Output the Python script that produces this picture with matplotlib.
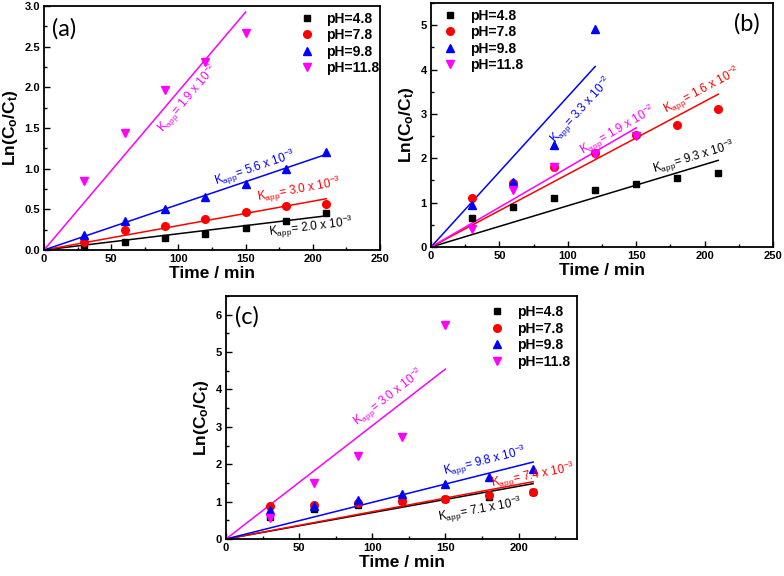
import numpy as np
import matplotlib
matplotlib.use("Agg")
import matplotlib.pyplot as plt
from matplotlib.ticker import MultipleLocator

plt.rcParams["font.family"] = ["Liberation Sans", "DejaVu Sans"]
plt.rcParams["mathtext.fontset"] = "custom"
plt.rcParams["mathtext.rm"] = "Liberation Sans"
plt.rcParams["mathtext.it"] = "Liberation Sans:italic"
plt.rcParams["mathtext.bf"] = "Liberation Sans:bold"

# ── data ──
series_names = ["pH=4.8", "pH=7.8", "pH=9.8", "pH=11.8"]
colors = ["#000000", "#ff0000", "#0000ff", "#ff00ff"]
markers = ["s", "o", "^", "v"]

t_long = [30, 60, 90, 120, 150, 180, 210]
t_short = [30, 60, 90, 120, 150]
t_b_blue = [30, 60, 90, 120]

# (a)
a_y = [
    [0.03, 0.10, 0.15, 0.20, 0.27, 0.36, 0.45],
    [0.10, 0.25, 0.30, 0.38, 0.47, 0.54, 0.57],
    [0.19, 0.36, 0.51, 0.65, 0.81, 1.00, 1.20],
    [0.85, 1.44, 1.97, 2.31, 2.67],
]
a_t = [t_long, t_long, t_long, t_short]
a_k = [0.0020, 0.0030, 0.0056, 0.0195]
a_tend = [210, 210, 210, 150]
a_klab = ["2.0 x 10$^{-3}$", "3.0 x 10$^{-3}$", "5.6 x 10$^{-3}$", "1.9 x 10$^{-2}$"]
a_kpos = [(199, 0.28), (190, 0.74), (157, 1.01), (107, 1.87)]

# (b)
b_y = [
    [0.66, 0.90, 1.10, 1.28, 1.43, 1.56, 1.67],
    [1.10, 1.45, 1.80, 2.12, 2.52, 2.75, 3.11],
    [0.95, 1.47, 2.29, 4.92],
    [0.40, 1.28, 1.80, 2.10, 2.50],
]
b_t = [t_long, t_long, t_b_blue, t_short]
b_k = [0.0093, 0.0164, 0.0339, 0.0179]
b_tend = [210, 210, 120, 150]
b_klab = ["9.3 x 10$^{-3}$", "1.6 x 10$^{-2}$", "3.3 x 10$^{-2}$", "1.9 x 10$^{-2}$"]
b_kpos = [(192, 2.02), (198, 3.52), (110, 3.08), (137, 2.62)]

# (c)
c_y = [
    [0.58, 0.80, 0.90, 1.02, 1.07, 1.12, 1.25],
    [0.88, 0.92, 0.95, 1.02, 1.08, 1.18, 1.25],
    [0.78, 0.88, 1.05, 1.20, 1.48, 1.66, 1.88],
    [0.57, 1.50, 2.22, 2.73, 5.73],
]
c_t = [t_long, t_long, t_long, t_short]
c_k = [0.00705, 0.0073, 0.0098, 0.0303]
c_tend = [210, 210, 210, 150]
c_klab = ["7.1 x 10$^{-3}$", "7.4 x 10$^{-3}$", "9.8 x 10$^{-3}$", "3.0 x 10$^{-2}$"]
c_kpos = [(174, 0.78), (210, 1.70), (177, 2.09), (111, 3.80)]

W, H = 784, 576
fig = plt.figure(figsize=(W / 100, H / 100), dpi=100)


def px_axes(l, r, t, b):
    return fig.add_axes([l / W, 1 - b / H, (r - l) / W, (b - t) / H])


def draw_panel(ax, ts, ys, ks, tends, klabs, kpos, xlim, ylim, yfmt, ymaj,
               tag, tag_xy, leg_loc, leg_anchor):
    for i in range(4):
        ax.plot(ts[i], ys[i], linestyle="none", marker=markers[i],
                color=colors[i], ms=5.5 if markers[i] != "s" else 4.8,
                label=series_names[i], zorder=3)
        ax.plot([0, tends[i]], [0, ks[i] * tends[i]], color=colors[i],
                lw=1.1, zorder=2)
    ax.set_xlim(*xlim)
    ax.set_ylim(*ylim)
    ax.xaxis.set_major_locator(MultipleLocator(50))
    ax.xaxis.set_minor_locator(MultipleLocator(25))
    ax.yaxis.set_major_locator(MultipleLocator(ymaj))
    ax.yaxis.set_minor_locator(MultipleLocator(ymaj / 2))
    ax.yaxis.set_major_formatter(yfmt)
    ax.tick_params(which="both", direction="in", top=False, right=False)
    ax.tick_params(which="major", length=4, width=1.0, labelsize=8, pad=3)
    ax.tick_params(which="minor", length=2.5, width=1.0)
    for lab in ax.get_xticklabels() + ax.get_yticklabels():
        lab.set_fontweight("bold")
    for sp in ax.spines.values():
        sp.set_linewidth(1.3)
    ax.set_xlabel("Time / min", fontsize=12.5, fontweight="bold", labelpad=1)
    ax.set_ylabel(r"Ln(C$_{\mathbf{o}}$/C$_{\mathbf{t}}$)", fontsize=12.5,
                  fontweight="bold", labelpad=3)
    ax.text(tag_xy[0], tag_xy[1], tag, transform=ax.transAxes,
            fontsize=17, family=["Lato", "DejaVu Sans"], va="center", ha="left")
    # rotated rate labels along the fit lines
    for i in range(4):
        p0 = ax.transData.transform((0, 0))
        p1 = ax.transData.transform((tends[i], ks[i] * tends[i]))
        ang = np.degrees(np.arctan2(p1[1] - p0[1], p1[0] - p0[0]))
        ax.text(kpos[i][0], kpos[i][1], r"K$_{\mathrm{app}}$= " + klabs[i],
                color=colors[i], fontsize=8.5, rotation=ang,
                rotation_mode="anchor", ha="center", va="center")
    leg = ax.legend(loc=leg_loc, bbox_to_anchor=leg_anchor, frameon=False,
                    prop={"weight": "bold", "size": 10}, handletextpad=0.9,
                    labelspacing=0.18, handlelength=1.0, borderaxespad=0.0)
    return leg


ax_a = px_axes(44, 380, 6, 250)
draw_panel(ax_a, a_t, a_y, a_k, a_tend, a_klab, a_kpos, (0, 250), (0, 3.0),
           "{x:.1f}", 0.5, "(a)", (0.025, 0.905), "upper right", (1.015, 1.0))

ax_b = px_axes(431, 773, 3, 247)
draw_panel(ax_b, b_t, b_y, b_k, b_tend, b_klab, b_kpos, (0, 250), (0, 5.5),
           "{x:.0f}", 1, "(b)", (0.885, 0.915), "upper left", (0.02, 1.0))

ax_c = px_axes(226, 577, 296, 539)
draw_panel(ax_c, c_t, c_y, c_k, c_tend, c_klab, c_kpos, (0, 240), (0, 6.5),
           "{x:.0f}", 1, "(c)", (0.025, 0.915), "upper right", (0.995, 0.985))

fig.savefig("out.png", dpi=100)
